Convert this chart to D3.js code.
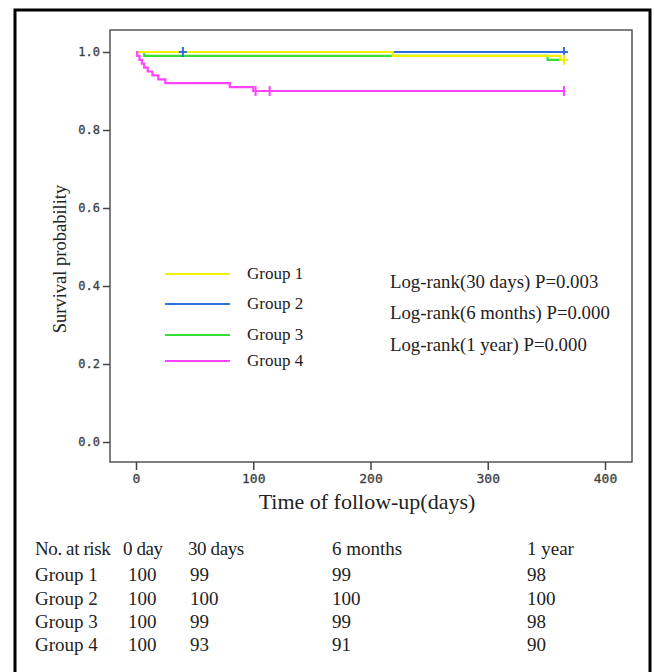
<!DOCTYPE html>
<html>
<head>
<meta charset="utf-8">
<script src="https://cdn.jsdelivr.net/npm/d3@7"></script>
<style>
  body { margin: 0; background: #fff; }
  svg { display: block; }
</style>
</head>
<body>
<script>
// survival curves (Kaplan-Meier steps)
let groups = ["Group 1", "Group 2", "Group 3", "Group 4"];
let colors = ["#f2f200", "#2f6fdc", "#33e033", "#ff44ff"];
let times = [
  [0, 219, 362, 365],
  [0, 365],
  [0, 7, 351, 365],
  [0, 1, 3, 5, 7, 10, 14, 19, 25, 80, 100, 365]];
let surv = [
  [1, 0.99, 0.98, 0.98],
  [1, 1],
  [1, 0.99, 0.98, 0.98],
  [1, 0.99, 0.98, 0.97, 0.96, 0.95, 0.94, 0.93, 0.92, 0.91, 0.90, 0.90]];
// censored observations: [group, day]
let censored = [[1, 40], [1, 365], [3, 102], [3, 114], [3, 365], [0, 365]];

let x_ticks = [0, 100, 200, 300, 400];
let y_ticks = [0, 0.2, 0.4, 0.6, 0.8, 1.0];

let logrank = ["Log-rank(30 days) P=0.003", "Log-rank(6 months) P=0.000", "Log-rank(1 year) P=0.000"];

let risk_head = ["No. at risk", "0 day", "30 days", "6 months", "1 year"];
let risk = [
  [100, 99, 99, 98],
  [100, 100, 100, 100],
  [100, 99, 99, 98],
  [100, 93, 91, 90]];

let width = 655, height = 672;
let box = { left: 110, top: 30, right: 632, bottom: 462 };
let serif = "'Liberation Serif', 'Times New Roman', serif";
let mono = "'DejaVu Sans Mono', monospace";

let svg = d3.select("body").append("svg")
    .attr("width", width)
    .attr("height", height);

// outer frame
svg.append("rect")
    .attr("x", 15).attr("y", 10)
    .attr("width", 635).attr("height", 700)
    .attr("fill", "none").attr("stroke", "#000").attr("stroke-width", 3);

let x = d3.scaleLinear().domain([0, 400]).range([136, 605]);
let y = d3.scaleLinear().domain([0, 1]).range([442, 52]);

// plot box
svg.append("rect")
    .attr("x", box.left).attr("y", box.top)
    .attr("width", box.right - box.left).attr("height", box.bottom - box.top)
    .attr("fill", "none").attr("stroke", "#555").attr("stroke-width", 1.5);

let xAxis = svg.append("g")
    .attr("transform", `translate(0,${box.bottom})`)
    .call(d3.axisBottom(x).tickValues(x_ticks).tickSize(8).tickPadding(4).tickFormat(d3.format("d")));
let yAxis = svg.append("g")
    .attr("transform", `translate(${box.left},0)`)
    .call(d3.axisLeft(y).tickValues(y_ticks).tickSize(7).tickPadding(3).tickFormat(d3.format(".1f")));
[xAxis, yAxis].forEach(a => {
  a.select(".domain").remove();
  a.selectAll("line").attr("stroke", "#444").attr("stroke-width", 1.5);
  a.selectAll("text").attr("font-family", mono).attr("fill", "#333")
      .attr("stroke", "#555").attr("stroke-width", 0.3);
});
xAxis.selectAll("text").attr("font-size", 13);
yAxis.selectAll("text").attr("font-size", 12);

// curves
let line = d3.line()
    .x(d => x(d[0]))
    .y(d => y(d[1]))
    .curve(d3.curveStepAfter);
[1, 2, 0, 3].forEach(g => {
  let pts = times[g].map((t, i) => [t, surv[g][i]]);
  svg.append("path")
      .attr("d", line(pts))
      .attr("fill", "none")
      .attr("stroke", colors[g])
      .attr("stroke-width", 2.2);
});

function survAt(g, t) {
  let s = 1;
  times[g].forEach((tt, i) => { if (tt <= t) s = surv[g][i]; });
  return s;
}
censored.forEach(c => {
  let cx = x(c[1]), cy = y(survAt(c[0], c[1]));
  svg.append("line").attr("x1", cx).attr("x2", cx).attr("y1", cy - 5).attr("y2", cy + 5)
      .attr("stroke", colors[c[0]]).attr("stroke-width", 2);
  if (c[0] != 3)
    svg.append("line").attr("x1", cx - 4).attr("x2", cx + 4).attr("y1", cy).attr("y2", cy)
        .attr("stroke", colors[c[0]]).attr("stroke-width", 2);
});

// legend
let legY = [274, 304, 335, 361];
groups.forEach((g, i) => {
  svg.append("line").attr("x1", 165).attr("x2", 230).attr("y1", legY[i]).attr("y2", legY[i])
      .attr("stroke", colors[i]).attr("stroke-width", 2);
  svg.append("text").text(g).attr("x", 247).attr("y", legY[i] + 5)
      .attr("font-family", serif).attr("font-size", 17).attr("fill", "#222");
});

let lrY = [282, 313, 345];
logrank.forEach((t, i) => {
  svg.append("text").text(t).attr("x", 390).attr("y", lrY[i] + 6)
      .attr("font-family", serif).attr("font-size", 18.8).attr("fill", "#222");
});

// axis titles
svg.append("text").text("Time of follow-up(days)")
    .attr("x", 367).attr("y", 509).attr("text-anchor", "middle")
    .attr("font-family", serif).attr("font-size", 22).attr("fill", "#222");
svg.append("text").text("Survival probability")
    .attr("transform", "translate(66,259) rotate(-90)").attr("text-anchor", "middle")
    .attr("font-family", serif).attr("font-size", 18.5).attr("fill", "#222");

// number at risk table
let colX = [35, 128, 190, 332, 527];
let headX = [35, 123, 188, 332, 527];
let rowY = [555, 581, 605, 628, 651];
risk_head.forEach((h, j) => {
  svg.append("text").text(h).attr("x", headX[j]).attr("y", rowY[0])
      .attr("font-family", serif).attr("font-size", 19).attr("fill", "#222")
      .attr("letter-spacing", j < 3 ? -0.4 : 0);
});
risk.forEach((r, i) => {
  svg.append("text").text(groups[i]).attr("x", colX[0]).attr("y", rowY[i + 1])
      .attr("font-family", serif).attr("font-size", 19).attr("fill", "#222");
  r.forEach((v, j) => {
    svg.append("text").text(v).attr("x", colX[j + 1]).attr("y", rowY[i + 1])
        .attr("font-family", serif).attr("font-size", 19).attr("fill", "#222");
  });
});
</script>
</body>
</html>
